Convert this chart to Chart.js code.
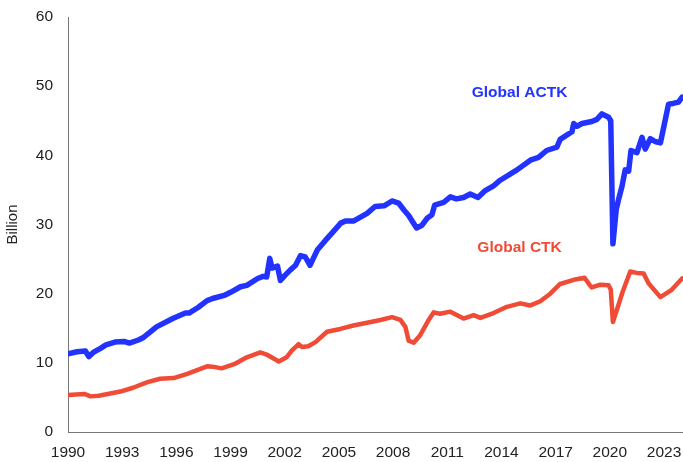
<!DOCTYPE html>
<html>
<head>
<meta charset="utf-8">
<script src="https://cdn.jsdelivr.net/npm/chart.js@4"></script>
<style>
  html, body { margin: 0; padding: 0; background: #fff; }
  #wrap { width: 683px; height: 462px; }
</style>
</head>
<body>
<div id="wrap"><canvas id="chart"></canvas></div>
<script>
// ---------- Data (decimal years) ----------
const tickYears = [1990, 1993, 1996, 1999, 2002, 2005, 2008, 2011, 2014, 2017, 2020, 2023];

const actkYears = [1990.0, 1990.5, 1990.97, 1991.15, 1991.4, 1991.8, 1992.1, 1992.6, 1993.1, 1993.4,
  1993.9, 1994.2, 1994.9, 1995.8, 1996.5, 1996.7, 1997.2, 1997.7, 1998.0, 1998.7,
  1999.0, 1999.55, 1999.9, 2000.5, 2000.8, 2001.0, 2001.17, 2001.3, 2001.6, 2001.76,
  2002.0, 2002.3, 2002.6, 2002.87, 2003.14, 2003.4, 2003.8, 2004.25, 2004.7, 2005.1,
  2005.36, 2005.8, 2006.56, 2007.0, 2007.5, 2007.94, 2008.3, 2008.6, 2008.86, 2009.3,
  2009.6, 2009.88, 2010.15, 2010.3, 2010.8, 2011.17, 2011.5, 2011.9, 2012.27, 2012.7,
  2013.1, 2013.56, 2013.93, 2014.86, 2015.6, 2016.05, 2016.5, 2017.07, 2017.25, 2017.9,
  2018.0, 2018.18, 2018.46, 2019.0, 2019.28, 2019.56, 2019.93, 2020.05, 2020.17, 2020.35,
  2020.5, 2020.67, 2020.85, 2021.04, 2021.17, 2021.5, 2021.78, 2021.96, 2022.24, 2022.5,
  2022.8, 2023.25, 2023.5, 2023.8, 2024.0];
const actkValues = [11.3, 11.6, 11.7, 10.9, 11.5, 12.1, 12.6, 13.0, 13.1, 12.85,
  13.3, 13.7, 15.2, 16.4, 17.2, 17.2, 18.0, 19.0, 19.3, 19.8,
  20.2, 21.0, 21.2, 22.2, 22.5, 22.4, 25.1, 23.7, 24.0, 21.9,
  22.6, 23.4, 24.1, 25.5, 25.3, 24.1, 26.3, 27.7, 29.0, 30.2,
  30.5, 30.5, 31.6, 32.6, 32.7, 33.4, 33.1, 32.1, 31.3, 29.5,
  29.9, 30.9, 31.4, 32.8, 33.2, 34.0, 33.7, 33.9, 34.4, 33.9,
  34.9, 35.6, 36.4, 37.9, 39.3, 39.7, 40.7, 41.2, 42.3, 43.4,
  44.6, 44.2, 44.6, 44.9, 45.2, 46.0, 45.5, 45.0, 27.2, 32.1,
  33.8, 35.5, 37.9, 37.7, 40.7, 40.4, 42.6, 40.9, 42.4, 42.0,
  41.8, 47.4, 47.5, 47.7, 48.4];

const ctkYears = [1990.0, 1990.9, 1991.25, 1991.7, 1992.2, 1992.9, 1993.6, 1994.4, 1995.1, 1995.85,
  1996.6, 1997.7, 1998.0, 1998.5, 1999.2, 1999.9, 2000.65, 2001.0, 2001.67, 2002.1,
  2002.4, 2002.77, 2002.96, 2003.3, 2003.7, 2004.34, 2005.08, 2005.8, 2006.56, 2007.3,
  2007.94, 2008.4, 2008.68, 2008.86, 2009.14, 2009.5, 2009.97, 2010.25, 2010.6, 2011.17,
  2011.9, 2012.46, 2012.83, 2013.56, 2014.3, 2015.04, 2015.6, 2016.15, 2016.7, 2017.25,
  2018.0, 2018.6, 2018.9, 2019.0, 2019.47, 2019.93, 2020.05, 2020.17, 2020.48, 2020.7,
  2021.13, 2021.5, 2021.87, 2022.14, 2022.8, 2023.4, 2024.0];
const ctkValues = [5.35, 5.5, 5.15, 5.25, 5.5, 5.85, 6.4, 7.2, 7.7, 7.8,
  8.4, 9.5, 9.45, 9.2, 9.8, 10.8, 11.5, 11.2, 10.2, 10.8,
  11.8, 12.7, 12.3, 12.4, 13.0, 14.5, 14.9, 15.4, 15.8, 16.2,
  16.6, 16.2, 15.2, 13.2, 12.9, 14.0, 16.2, 17.3, 17.1, 17.4,
  16.4, 16.9, 16.5, 17.2, 18.1, 18.6, 18.3, 18.9, 20.0, 21.4,
  22.0, 22.3, 21.2, 20.9, 21.3, 21.2, 20.6, 15.9, 18.4, 20.2,
  23.2, 23.0, 22.9, 21.5, 19.5, 20.5, 22.2];

// series labels anchored in data space
const seriesLabels = [
  { text: "Global ACTK", year: 2015.0, value: 49.1, color: "#2233ff" },
  { text: "Global CTK", year: 2015.0, value: 26.6, color: "#f04b37" },
];

const toPoints = (xs, ys) => xs.map((x, i) => ({ x: x, y: ys[i] }));

const FONT = "'Liberation Sans', Arial, sans-serif";

// ---------- Series labels plugin ----------
const labelPlugin = {
  id: "seriesLabels",
  afterDatasetsDraw(chart) {
    const { ctx, scales } = chart;
    ctx.save();
    ctx.font = "bold 15.5px " + FONT;
    ctx.textAlign = "center";
    ctx.textBaseline = "middle";
    seriesLabels.forEach((l) => {
      ctx.fillStyle = l.color;
      ctx.fillText(l.text, scales.x.getPixelForValue(l.year), scales.y.getPixelForValue(l.value));
    });
    ctx.restore();
  },
};

new Chart(document.getElementById("chart"), {
  type: "line",
  data: {
    datasets: [
      {
        label: "Global ACTK",
        data: toPoints(actkYears, actkValues),
        borderColor: "#2233ff",
        borderWidth: 5.5,
        pointRadius: 0,
        tension: 0,
        borderJoinStyle: "round",
        borderCapStyle: "round",
      },
      {
        label: "Global CTK",
        data: toPoints(ctkYears, ctkValues),
        borderColor: "#f04b37",
        borderWidth: 4.5,
        pointRadius: 0,
        tension: 0,
        borderJoinStyle: "round",
        borderCapStyle: "round",
      },
    ],
  },
  options: {
    responsive: true,
    maintainAspectRatio: false,
    animation: false,
    layout: { padding: { top: 17, right: 0, left: 0, bottom: 0 } },
    plugins: {
      legend: { display: false },
      tooltip: { enabled: false },
    },
    scales: {
      x: {
        type: "linear",
        min: 1990,
        max: 2024.05,
        grid: { display: false, drawTicks: false },
        border: { display: true, color: "#777", width: 1 },
        afterBuildTicks: (scale) => {
          scale.ticks = tickYears.map((v) => ({ value: v }));
        },
        afterFit: (scale) => {
          // keep the plot running to the right edge
          scale.height = 30;
          scale.paddingLeft = 0;
          scale.paddingRight = 0;
        },
        ticks: {
          padding: 11,
          maxRotation: 0,
          autoSkip: false,
          color: "#222",
          font: { family: FONT, size: 15.5 },
          callback: (v) => String(v),
        },
      },
      y: {
        min: 0,
        max: 60,
        grid: { display: false, drawTicks: false },
        border: { display: true, color: "#777", width: 1 },
        afterFit: (scale) => {
          scale.width = 68;
          scale.paddingTop = 0;
          scale.paddingBottom = 0;
        },
        ticks: {
          stepSize: 10,
          padding: 15,
          color: "#222",
          font: { family: FONT, size: 15.5 },
        },
        title: {
          display: true,
          text: "Billion",
          color: "#222",
          font: { family: FONT, size: 15 },
          padding: { top: 4, bottom: 4 },
        },
      },
    },
  },
  plugins: [labelPlugin],
});
</script>
</body>
</html>
